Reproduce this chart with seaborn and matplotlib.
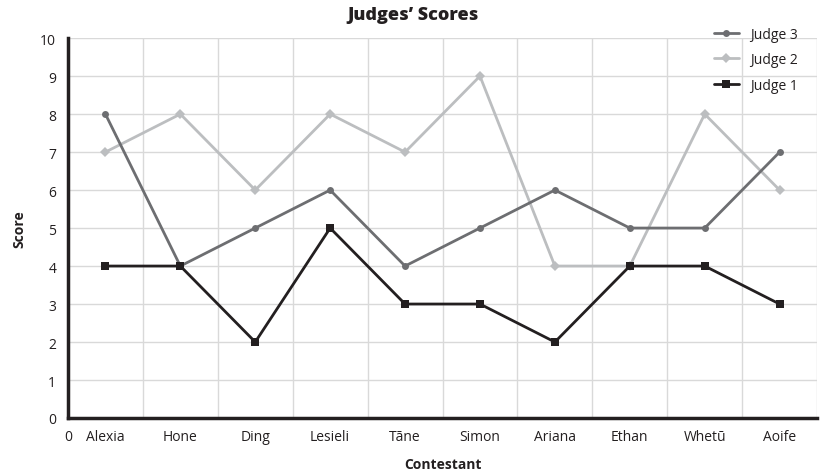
import matplotlib
matplotlib.use("Agg")
import matplotlib.pyplot as plt
import seaborn as sns
import pandas as pd
import numpy as np
from matplotlib.lines import Line2D

contestants = ["Alexia", "Hone", "Ding", "Lesieli", "Tāne", "Simon", "Ariana", "Ethan", "Whetū", "Aoife"]
judge1 = [4, 4, 2, 5, 3, 3, 2, 4, 4, 3]
judge2 = [7, 8, 6, 8, 7, 9, 4, 4, 8, 6]
judge3 = [8, 4, 5, 6, 4, 5, 6, 5, 5, 7]
series_names = ["Judge 3", "Judge 2", "Judge 1"]
colors = {"Judge 3": "#6d6e71", "Judge 2": "#bcbec0", "Judge 1": "#231f20"}
markers = {"Judge 3": "o", "Judge 2": "D", "Judge 1": "s"}
msizes = {"Judge 3": 5, "Judge 2": 5, "Judge 1": 6}

sns.set_theme(style="white")
plt.rcParams["font.family"] = ["Open Sans", "DejaVu Sans"]

rows = []
for name, vals in [("Judge 3", judge3), ("Judge 2", judge2), ("Judge 1", judge1)]:
    for i, (c, v) in enumerate(zip(contestants, vals)):
        rows.append({"Contestant": c, "pos": i + 0.5, "Score": v, "Judge": name})
df = pd.DataFrame(rows)

fig = plt.figure(figsize=(8.27, 4.77), dpi=100)
ax = fig.add_axes([0.0822, 0.1216, 0.9058, 0.7964])

for name in ["Judge 2", "Judge 3", "Judge 1"]:
    sub = df[df["Judge"] == name]
    sns.lineplot(data=sub, x="pos", y="Score", ax=ax, color=colors[name],
                 marker=markers[name], markersize=msizes[name], linewidth=2,
                 markeredgewidth=0, legend=False, zorder=3)

ax.set_xlim(0, 10)
ax.set_ylim(0, 10)
ax.set_yticks(range(0, 11))
ax.set_xticks([0] + [i + 0.5 for i in range(10)])
ax.set_xticklabels(["0"] + contestants, fontsize=10, color="#231f20")
ax.set_xticks(range(1, 11), minor=True)
ax.tick_params(axis="x", which="major", length=0, pad=8)
ax.tick_params(axis="x", which="minor", length=6, color="#d0d0d0", width=1, direction="out")
ax.tick_params(axis="y", length=5, width=1.5, color="#231f20", direction="out", labelsize=10, labelcolor="#231f20")
ax.grid(True, axis="y", color="#d9d9d9", linewidth=1, zorder=0)
ax.grid(True, axis="x", which="minor", color="#d9d9d9", linewidth=1, zorder=0)
ax.grid(False, axis="x", which="major")
ax.set_axisbelow(True)
for s in ["top", "right"]:
    ax.spines[s].set_visible(False)
ax.spines["left"].set_color("#231f20")
ax.spines["left"].set_linewidth(2.5)
ax.spines["bottom"].set_color("#231f20")
ax.spines["bottom"].set_linewidth(2.5)
ax.set_xlabel("Contestant", fontsize=10, fontweight="bold", color="#231f20", labelpad=9)
ax.set_ylabel("Score", fontsize=10, fontweight="bold", color="#231f20", labelpad=10)
fig.suptitle("Judges’ Scores", x=0.5, y=0.985, fontsize=13, fontweight="heavy", color="#231f20")

handles = [Line2D([0], [0], color=colors[n], marker=markers[n], markersize=msizes[n],
                  linewidth=2, markeredgewidth=0) for n in series_names]
fig.legend(handles, series_names, loc="upper left", bbox_to_anchor=(0.848, 0.968),
           frameon=False, fontsize=10, handlelength=1.8, handletextpad=0.8,
           labelspacing=0.75, labelcolor="#231f20")

fig.savefig("out.png", dpi=100)
